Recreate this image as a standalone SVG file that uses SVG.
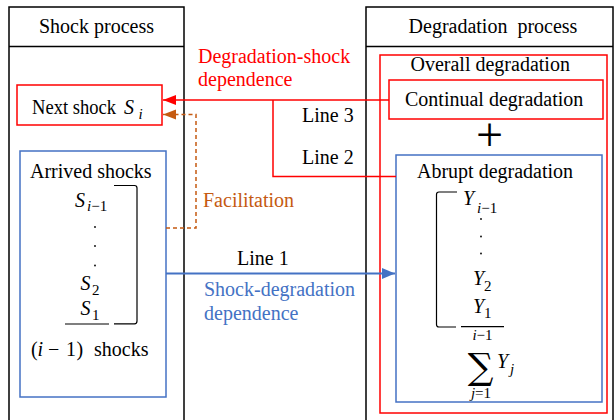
<svg xmlns="http://www.w3.org/2000/svg" width="615" height="420" viewBox="0 0 615 420">
  <defs>
    <style>
      text { font-family: "Liberation Serif", "Times New Roman", serif; font-size: 20px; fill: #000; }
      .red { fill: #ff0000; }
      .blue { fill: #4472c4; }
      .orange { fill: #c55a11; }
      .it { font-style: italic; }
      .sub { font-size: 15px; }
      .frame { fill: none; stroke: #000; stroke-width: 1.5; }
      .rbox { fill: none; stroke: #ff0000; stroke-width: 1.5; }
      .bbox { fill: none; stroke: #4472c4; stroke-width: 1.5; }
      .thin { fill: none; stroke: #000; stroke-width: 1.2; }
      .dot { fill: #000; }
      .mid { text-anchor: middle; }
    </style>
    <marker id="arrRed" markerUnits="userSpaceOnUse" markerWidth="14" markerHeight="12" refX="13" refY="5" orient="auto">
      <polygon points="0,0 13,5 0,10" fill="#ff0000"/>
    </marker>
    <marker id="arrOrange" markerUnits="userSpaceOnUse" markerWidth="14" markerHeight="12" refX="13" refY="5" orient="auto">
      <polygon points="0,0 13,5 0,10" fill="#c55a11"/>
    </marker>
    <marker id="arrBlue" markerUnits="userSpaceOnUse" markerWidth="14" markerHeight="12" refX="13" refY="5.5" orient="auto">
      <polygon points="0,0 13,5.5 0,11" fill="#4472c4"/>
    </marker>
  </defs>

  <!-- Shock process panel -->
  <g id="shock-process">
    <rect class="frame" x="9" y="7" width="175" height="420"/>
    <line class="frame" x1="9" y1="46.5" x2="184" y2="46.5"/>
    <text class="mid" x="96.5" y="33">Shock process</text>
  </g>

  <!-- Degradation process panel -->
  <g id="degradation-process">
    <rect class="frame" x="366" y="7" width="247" height="420"/>
    <line class="frame" x1="366" y1="46.5" x2="613" y2="46.5"/>
    <text class="mid" x="493" y="33" xml:space="preserve">Degradation  process</text>
  </g>

  <!-- Next shock -->
  <g id="next-shock">
    <rect class="rbox" x="17" y="85" width="145" height="40"/>
    <text x="32" y="113.5" textLength="84" lengthAdjust="spacingAndGlyphs">Next shock</text>
    <text class="it" x="124" y="113.5">S</text>
    <text class="it sub" x="138.5" y="119">i</text>
  </g>

  <!-- Arrived shocks -->
  <g id="arrived-shocks">
    <rect class="bbox" x="20" y="151" width="146" height="246"/>
    <text x="30" y="177.5">Arrived shocks</text>
    <text class="it" x="75" y="206.5">S</text>
    <text class="sub" x="87" y="211"><tspan class="it">i</tspan>−1</text>
    <circle class="dot" cx="95" cy="227" r="0.9"/>
    <circle class="dot" cx="95" cy="246" r="0.9"/>
    <circle class="dot" cx="95" cy="265.5" r="0.9"/>
    <text class="it" x="80.5" y="290">S</text>
    <text class="sub" x="92" y="295">2</text>
    <text class="it" x="80.5" y="315">S</text>
    <text class="sub" x="92" y="319.5">1</text>
    <line class="thin" x1="65" y1="324" x2="109" y2="324"/>
    <path class="thin" d="M114 185.5 H134.5 Q137 185.5 137 188 V321 Q137 323.8 134.5 323.8 H114"/>
    <text y="356"><tspan x="31">(</tspan><tspan class="it" x="37.5">i</tspan><tspan x="48">−</tspan><tspan x="66">1</tspan><tspan x="76.5">)</tspan><tspan x="94">shocks</tspan></text>
  </g>

  <!-- Overall degradation -->
  <g id="overall-degradation">
    <rect class="rbox" x="380" y="55" width="227" height="358"/>
    <text x="410.5" y="71">Overall degradation</text>
    <text class="mid" x="489.5" y="151" style="font-size:48px">+</text>
  </g>

  <!-- Continual degradation -->
  <g id="continual-degradation">
    <rect class="rbox" x="389" y="80" width="214" height="39"/>
    <text x="405" y="106">Continual degradation</text>
  </g>

  <!-- Abrupt degradation -->
  <g id="abrupt-degradation">
    <rect class="bbox" x="396" y="155" width="206" height="247"/>
    <text x="417" y="178">Abrupt degradation</text>
    <path class="thin" d="M457 192 H439 Q436.5 192 436.5 194.5 V324.5 Q436.5 327 439 327 H456"/>
    <text class="it" x="463" y="205">Y</text>
    <text class="sub" x="477" y="213"><tspan class="it">i</tspan>−1</text>
    <circle class="dot" cx="481" cy="219" r="0.9"/>
    <circle class="dot" cx="481" cy="236.5" r="0.9"/>
    <circle class="dot" cx="481" cy="253.5" r="0.9"/>
    <text class="it" x="473" y="285">Y</text>
    <text class="sub" x="484" y="291">2</text>
    <text class="it" x="473" y="312.5">Y</text>
    <text class="sub" x="484" y="318">1</text>
    <line class="thin" x1="461" y1="326.7" x2="504" y2="326.7"/>
    <text class="sub mid" x="482.5" y="340"><tspan class="it">i</tspan>−1</text>
    <text class="mid" x="480.5" y="379" style="font-family:'DejaVu Serif', serif; font-size:36px">∑</text>
    <text class="it" x="497" y="368">Y</text>
    <text class="sub it" x="510" y="374">j</text>
    <text class="sub mid" x="481" y="398"><tspan class="it">j</tspan>=1</text>
  </g>

  <!-- Connectors -->
  <g id="connectors" fill="none" stroke-width="1.5">
    <path d="M389 100 H163" stroke="#ff0000" marker-end="url(#arrRed)"/>
    <path d="M273 100 V176.5 H396" stroke="#ff0000"/>
    <path d="M166 228 H196 V114.5 H163" stroke="#c55a11" stroke-dasharray="4 3" marker-end="url(#arrOrange)"/>
    <path d="M166 273.5 H395" stroke="#4472c4" stroke-width="2" marker-end="url(#arrBlue)"/>
  </g>

  <!-- Connector labels -->
  <g id="labels">
    <text class="red" x="198" y="63">Degradation-shock</text>
    <text class="red" x="198" y="86">dependence</text>
    <text x="302" y="121.5">Line 3</text>
    <text x="302" y="164">Line 2</text>
    <text class="orange" x="203" y="206.5">Facilitation</text>
    <text x="237" y="265">Line 1</text>
    <text class="blue" x="204" y="296">Shock-degradation</text>
    <text class="blue" x="204" y="320">dependence</text>
  </g>
</svg>
